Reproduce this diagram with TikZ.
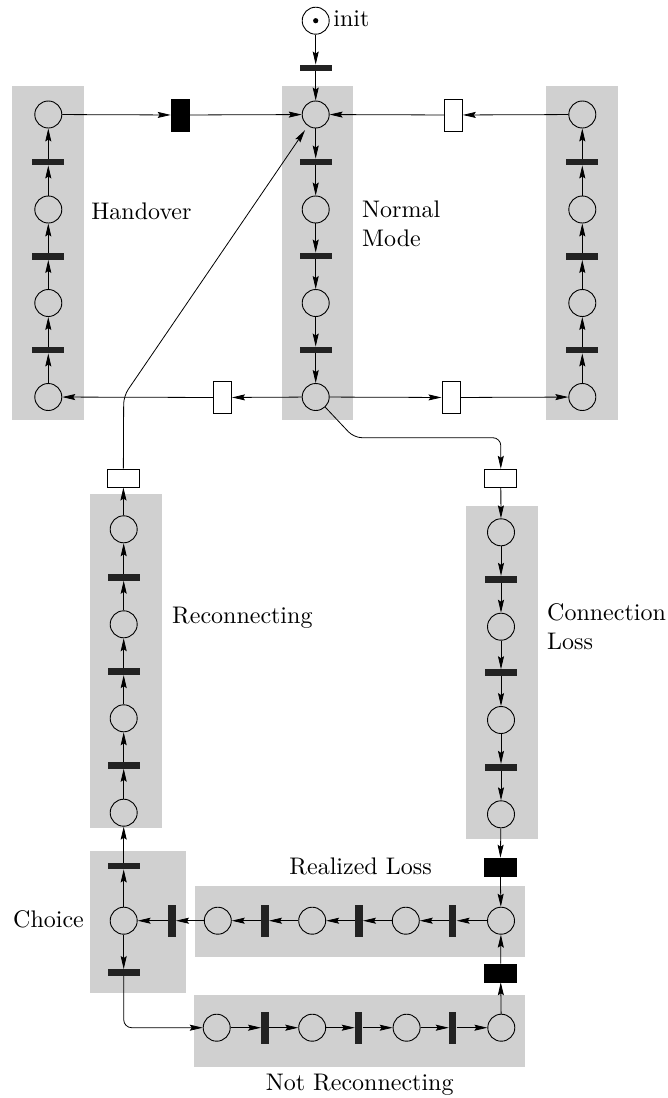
\documentclass[tikz,border=0pt]{standalone}
\usetikzlibrary{arrows.meta}
\definecolor{zone}{RGB}{208,208,208}
\definecolor{ink}{RGB}{34,34,34}
\begin{document}
\begin{tikzpicture}[x=1pt,y=-1pt,
  place/.style={circle,draw=black,line width=0.9pt,minimum size=27pt,inner sep=0pt},
  hbar/.style={rectangle,fill=ink,minimum width=32pt,minimum height=6.5pt,inner sep=0pt},
  vbar/.style={rectangle,fill=ink,minimum width=7.5pt,minimum height=32pt,inner sep=0pt},
  opentall/.style={rectangle,draw=black,fill=white,line width=1pt,minimum width=18pt,minimum height=32pt,inner sep=0pt},
  openwide/.style={rectangle,draw=black,fill=white,line width=1pt,minimum width=32pt,minimum height=18pt,inner sep=0pt},
  solidtall/.style={rectangle,draw=black,fill=black,line width=0.6pt,minimum width=18pt,minimum height=32pt,inner sep=0pt},
  solidwide/.style={rectangle,draw=black,fill=black,line width=0.6pt,minimum width=32pt,minimum height=18pt,inner sep=0pt},
  arc/.style={draw=black,line width=0.8pt,-{Stealth[length=13pt,width=6pt,inset=2pt]}},
  lbl/.style={font=\fontsize{10}{12}\selectfont,scale=2.4,inner sep=0pt,anchor=base west,align=left}
]
% canvas
\useasboundingbox (0,0) rectangle (668,1098);

% shaded groups
\fill[zone] (12.3,86) rectangle (84,420);
\fill[zone] (281.7,86) rectangle (352.7,419.5);
\fill[zone] (546,86) rectangle (617.7,420);
\fill[zone] (90,494) rectangle (162,827.7);
\fill[zone] (466,506) rectangle (537.7,839.3);
\fill[zone] (90.1,851) rectangle (186,992.7);
\fill[zone] (195,886) rectangle (525,956.7);
\fill[zone] (194,995) rectangle (525,1067);

% initial place with token
\node[place] (init) at (315.7,20.7) {};
\fill (init.center) circle[radius=2.6];
\node[hbar] (ib) at (315.7,68) {};

% handover column
\node[place] (h1) at (48.3,114.5) {};
\node[hbar] (hb1) at (48.3,162) {};
\node[place] (h2) at (48.3,209.5) {};
\node[hbar] (hb2) at (48.3,256.5) {};
\node[place] (h3) at (48.3,303) {};
\node[hbar] (hb3) at (48.3,350) {};
\node[place] (h4) at (48.3,397) {};

% normal mode column
\node[place] (n1) at (315.7,114.5) {};
\node[hbar] (nb1) at (315.7,162) {};
\node[place] (n2) at (315.7,209.5) {};
\node[hbar] (nb2) at (315.7,256) {};
\node[place] (n3) at (315.7,303) {};
\node[hbar] (nb3) at (315.7,350) {};
\node[place] (n4) at (315.7,397) {};

% right column
\node[place] (r1) at (582.3,114.5) {};
\node[hbar] (rb1) at (582.3,162) {};
\node[place] (r2) at (582.3,209.5) {};
\node[hbar] (rb2) at (582.3,256.5) {};
\node[place] (r3) at (582.3,303) {};
\node[hbar] (rb3) at (582.3,350) {};
\node[place] (r4) at (582.3,397) {};

% transitions between the upper columns
\node[solidtall] (tb) at (180,115) {};
\node[opentall] (tr) at (453.3,115) {};
\node[opentall] (bl) at (222.5,397.5) {};
\node[opentall] (br) at (451,397.5) {};

% reconnecting column
\node[openwide] (rco) at (123.3,478) {};
\node[place] (rc1) at (123.7,529.3) {};
\node[hbar] (rcb1) at (123.7,577.3) {};
\node[place] (rc2) at (123.7,624.3) {};
\node[hbar] (rcb2) at (123.7,671.7) {};
\node[place] (rc3) at (123.7,718.3) {};
\node[hbar] (rcb3) at (123.7,765.3) {};
\node[place] (rc4) at (123.7,812.7) {};

% connection loss column
\node[openwide] (clo) at (500.8,478.3) {};
\node[place] (cl1) at (501,532.3) {};
\node[hbar] (clb1) at (501,579.3) {};
\node[place] (cl2) at (501,626.7) {};
\node[hbar] (clb2) at (501,672.7) {};
\node[place] (cl3) at (501,720) {};
\node[hbar] (clb3) at (501,767.3) {};
\node[place] (cl4) at (501,814.3) {};
\node[solidwide] (clk) at (500.3,867) {};

% choice
\node[hbar] (cht) at (123.7,866) {};
\node[place] (ch) at (123.7,920.7) {};
\node[hbar] (chb) at (123.7,972.5) {};

% realized loss row
\node[place] (rl1) at (501,920.7) {};
\node[vbar] (rlb1) at (452.7,920.7) {};
\node[place] (rl2) at (405.8,920.7) {};
\node[vbar] (rlb2) at (359,920.7) {};
\node[place] (rl3) at (312.2,920.7) {};
\node[vbar] (rlb3) at (265,920.7) {};
\node[place] (rl4) at (217.8,920.7) {};
\node[vbar] (rlb4) at (172,920.7) {};

% not reconnecting row
\node[place] (nr1) at (216.7,1027.7) {};
\node[vbar] (nrb1) at (265,1027.7) {};
\node[place] (nr2) at (312.2,1027.7) {};
\node[vbar] (nrb2) at (358.7,1027.7) {};
\node[place] (nr3) at (406.6,1027.7) {};
\node[vbar] (nrb3) at (452.7,1027.7) {};
\node[place] (nr4) at (501.3,1027.7) {};
\node[solidwide] (nrk) at (500.6,973) {};

% labels (two-line labels are anchored on their last baseline)
\node[lbl] (tinit) at (333,26.7) {init};
\node[lbl] (thand) at (91,219) {Handover};
\node[lbl] (tnorm) at (361.7,246.7) {Normal\\Mode};
\node[lbl] (trec) at (171.7,623.3) {Reconnecting};
\node[lbl] (tcl) at (546.7,649.3) {Connection\\Loss};
\node[lbl] (trl) at (289,874) {Realized Loss};
\node[lbl] (tnr) at (265.4,1090.7) {Not Reconnecting};
\node[lbl] (tch) at (12.7,927.3) {Choice};

% straight arcs
\foreach \a/\b in {
  init/ib, ib/n1, n1/nb1, nb1/n2, n2/nb2, nb2/n3, n3/nb3, nb3/n4,
  h4/hb3, hb3/h3, h3/hb2, hb2/h2, h2/hb1, hb1/h1,
  r4/rb3, rb3/r3, r3/rb2, rb2/r2, r2/rb1, rb1/r1,
  h1/tb, tb/n1, r1/tr, tr/n1,
  n4/bl, bl/h4, n4/br, br/r4,
  ch/cht, cht/rc4, rc4/rcb3, rcb3/rc3, rc3/rcb2, rcb2/rc2, rc2/rcb1, rcb1/rc1, rc1/rco,
  clo/cl1, cl1/clb1, clb1/cl2, cl2/clb2, clb2/cl3, cl3/clb3, clb3/cl4, cl4/clk, clk/rl1,
  rl1/rlb1, rlb1/rl2, rl2/rlb2, rlb2/rl3, rl3/rlb3, rlb3/rl4, rl4/rlb4, rlb4/ch,
  ch/chb,
  nr1/nrb1, nrb1/nr2, nr2/nrb2, nrb2/nr3, nr3/nrb3, nrb3/nr4, nr4/nrk, nrk/rl1}
  \draw[arc] (\a) -- (\b);

% bent arcs
\draw[arc,rounded corners=8pt,shorten >=5pt] (rco) -- (123.7,396) -- (n1);
\draw[arc,rounded corners=8pt] (n4) -- (354,437.7) -- (500.8,437.7) -- (clo);
\draw[arc,rounded corners=8pt] (chb) |- (nr1);
\end{tikzpicture}
\end{document}
